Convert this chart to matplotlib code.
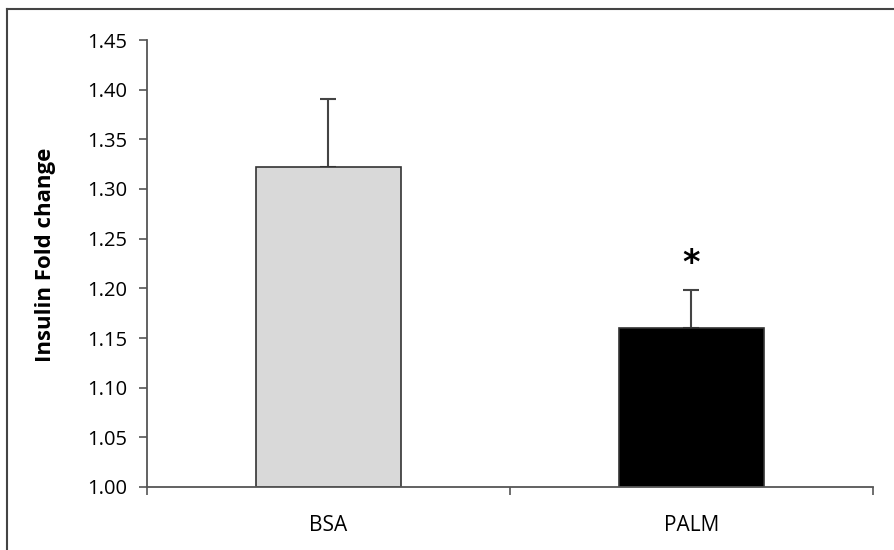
import numpy as np
import matplotlib.pyplot as plt
from matplotlib.lines import Line2D

# data
groups = ["BSA", "PALM"]
means = [1.322, 1.160]
errors = [0.069, 0.038]
colors = ["#d9d9d9", "#000000"]
stars = ["", "*"]
yticks = [1.00, 1.05, 1.10, 1.15, 1.20, 1.25, 1.30, 1.35, 1.40, 1.45]

plt.rcParams['font.family'] = ['Open Sans', 'DejaVu Sans']

fig = plt.figure(figsize=(8.95, 5.5), dpi=100)
ax = fig.add_axes([147 / 895, 1 - 487 / 550, 726 / 895, 447 / 550])

x = np.arange(len(groups))
ax.bar(x, np.array(means) - 1.0, bottom=1.0, width=0.4, color=colors,
       edgecolor="#333333", linewidth=1.2, zorder=2)
ax.errorbar(x, means, yerr=[np.zeros(len(errors)), errors], fmt="none",
            ecolor="#444444", elinewidth=1.5, capsize=5.5, capthick=1.5, zorder=1)

for xi, m, e, s in zip(x, means, errors, stars):
    if s:
        ax.text(xi, m + e + 0.010, s, ha="center", va="bottom",
                fontsize=24, fontweight="bold", family="DejaVu Sans")

ax.set_xlim(-0.5, 1.5)
ax.set_ylim(1.0, 1.45)
ax.set_yticks(yticks)
ax.set_yticklabels([f"{t:.2f}" for t in yticks], fontsize=14.5)
ax.set_xticks(x)
ax.set_xticklabels(groups, fontsize=15)
ax.set_xticks([-0.5, 0.5, 1.5], minor=True)
ax.tick_params(axis="x", which="major", length=0, pad=20)
ax.tick_params(axis="x", which="minor", length=6, width=1.2, color="#555555")
ax.tick_params(axis="y", length=6, width=1.2, color="#555555", pad=8)

for side in ["top", "right"]:
    ax.spines[side].set_visible(False)
for side in ["left", "bottom"]:
    ax.spines[side].set_color("#555555")
    ax.spines[side].set_linewidth(1.3)

ax.set_ylabel("Insulin Fold change", fontsize=16, fontweight="bold")
ax.yaxis.set_label_coords(-0.125, 0.52)

# outer frame (left and top edges visible)
fig.add_artist(Line2D([7 / 895, 7 / 895], [0, 1 - 9 / 550], color="#444444", lw=1.5))
fig.add_artist(Line2D([7 / 895, 1], [1 - 9 / 550, 1 - 9 / 550], color="#444444", lw=1.5))

fig.savefig("out.png", dpi=100)
